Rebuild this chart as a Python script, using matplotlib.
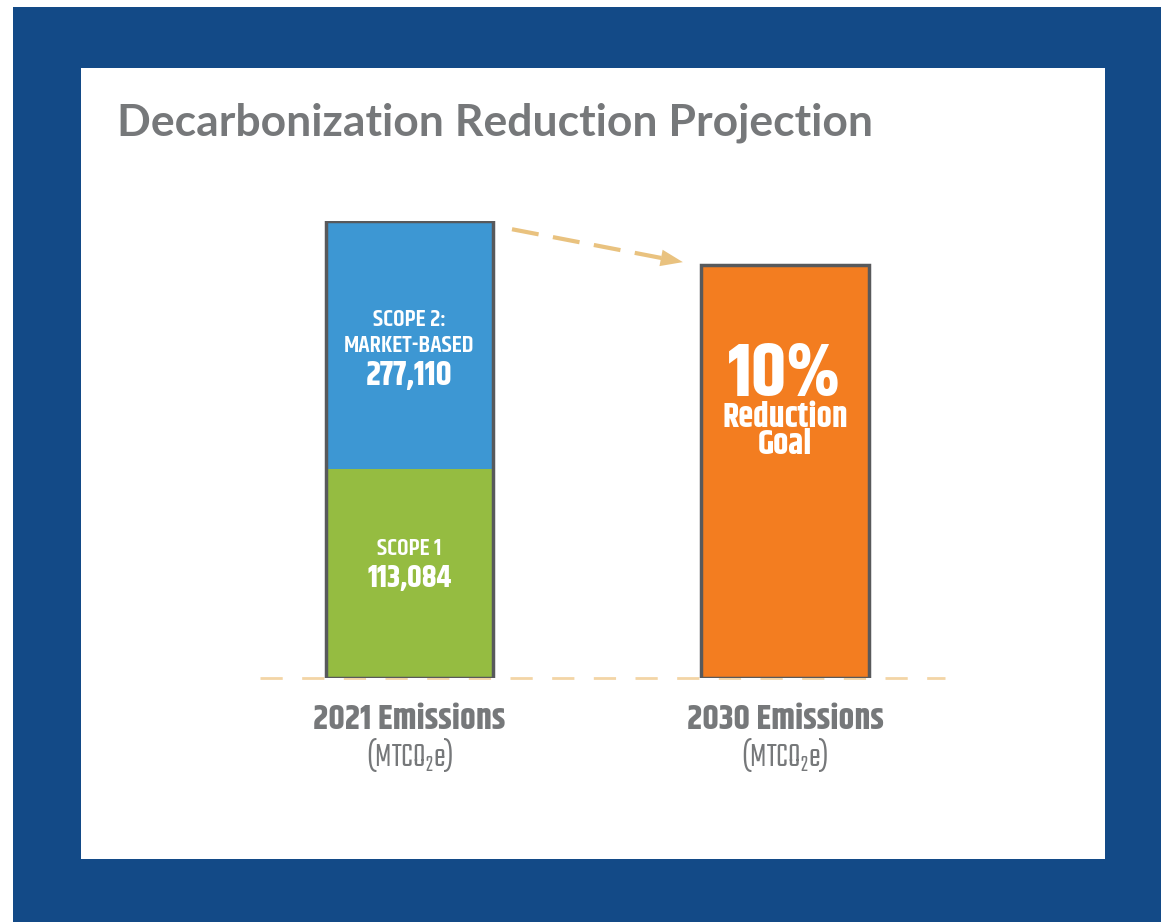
import matplotlib
matplotlib.use("Agg")
import matplotlib.pyplot as plt
from matplotlib.patches import Rectangle

# ---- data ----
categories = ["2021 Emissions", "2030 Emissions"]
unit_label = "(MTCO$_2$e)"
scope1_value = 113084
scope2_value = 277110
reduction_goal_pct = 10
# drawn heights (share of 2021 bar, as shown in the reference graphic)
scope1_height = [45.7, 0]
scope2_height = [54.3, 0]
goal_height = [0, 90.4]
scope1_label = ["SCOPE 1", f"{scope1_value:,}"]
scope2_label = ["SCOPE 2:", "MARKET-BASED", f"{scope2_value:,}"]
goal_label = [f"{reduction_goal_pct}%", "Reduction", "Goal"]

# ---- style ----
FRAME = "#134a87"
BLUE = "#3d97d3"
GREEN = "#95bc41"
ORANGE = "#f37d20"
EDGE = "#58595b"
GRAY = "#76787a"
TAN = "#e9c27f"
TAN_LIGHT = "#f3d5a6"
BOLD = ["Khand", "DejaVu Sans"]
THIN = ["Teko", "DejaVu Sans"]
plt.rcParams["mathtext.fontset"] = "custom"
plt.rcParams["mathtext.rm"] = "Teko"
plt.rcParams["mathtext.default"] = "rm"

W, H = 1163, 922
fig = plt.figure(figsize=(W / 100, H / 100), dpi=100)
fig.patch.set_facecolor("white")

# blue frame and white panel (figure-fraction layout)
fig.patches.append(Rectangle((13 / W, 0), (1161 - 13) / W, (922 - 7) / H,
                             transform=fig.transFigure, facecolor=FRAME,
                             edgecolor="none", zorder=0))
fig.patches.append(Rectangle((81 / W, (922 - 859) / H), (1105 - 81) / W, (859 - 68) / H,
                             transform=fig.transFigure, facecolor="white",
                             edgecolor="none", zorder=1))

fig.text(117 / W, 1 - 123 / H, "Decarbonization Reduction Projection",
         fontsize=32, color=GRAY, family=["Lato", "DejaVu Sans"], fontweight="bold",
         ha="left", va="center", zorder=3)

# main axes
ax = fig.add_axes([260 / W, (922 - 678) / H, (945 - 260) / W, (678 - 221) / H])
ax.set_zorder(2)
ax.patch.set_alpha(0)
x = [0, 1]
bw = 0.445
ax.set_xlim(-0.398, 1.426)
ax.set_ylim(0, 100)
ax.axis("off")

ax.bar(x, scope1_height, width=bw, color=GREEN, edgecolor="none", zorder=2)
ax.bar(x, scope2_height, bottom=scope1_height, width=bw, color=BLUE,
       edgecolor="none", zorder=2)
ax.bar(x, goal_height, width=bw, color=ORANGE, edgecolor="none", zorder=2)
totals = [a + b + c for a, b, c in zip(scope1_height, scope2_height, goal_height)]
ax.bar(x, totals, width=bw, facecolor="none", edgecolor=EDGE, linewidth=2.5, zorder=3)

# dashed baseline
ax.plot([-0.398, 1.426], [0, 0], color=TAN_LIGHT, lw=2, dashes=(8, 7),
        clip_on=False, zorder=1)

# dashed arrow from 2021 top to 2030 top
x0, y0 = x[0] + 0.273, totals[0] - 1.8
x1, y1 = x[1] - 0.272, totals[1] + 0.6
ax.plot([x0, x0 + (x1 - x0) * 0.9], [y0, y0 + (y1 - y0) * 0.9], color=TAN,
        lw=3, dashes=(6.5, 3.5), solid_capstyle="butt", clip_on=False, zorder=2)
ax.annotate("", xy=(x1, y1), xytext=(x0 + (x1 - x0) * 0.86, y0 + (y1 - y0) * 0.86),
            arrowprops=dict(arrowstyle="-|>,head_length=1.6,head_width=0.6",
                            color=TAN, lw=0, shrinkA=0, shrinkB=0),
            annotation_clip=False)

# labels inside the 2021 bar
ax.text(x[0], 78.4, scope2_label[0], ha="center", va="center", color="white",
        fontsize=17.5, family=BOLD, fontweight="semibold")
ax.text(x[0], 72.7, scope2_label[1], ha="center", va="center", color="white",
        fontsize=17.5, family=BOLD, fontweight="semibold")
ax.text(x[0], 66.5, scope2_label[2], ha="center", va="center", color="white",
        fontsize=24.5, family=BOLD, fontweight="bold")
ax.text(x[0], 28.4, scope1_label[0], ha="center", va="center", color="white",
        fontsize=17.5, family=BOLD, fontweight="semibold")
ax.text(x[0], 22.1, scope1_label[1], ha="center", va="center", color="white",
        fontsize=22.5, family=BOLD, fontweight="bold")

# labels inside the 2030 bar
ax.text(x[1], 66.7, goal_label[0], ha="center", va="center", color="white",
        fontsize=54, family=BOLD, fontweight="bold")
ax.text(x[1], 57.3, goal_label[1], ha="center", va="center", color="white",
        fontsize=24.5, family=BOLD, fontweight="bold")
ax.text(x[1], 51.3, goal_label[2], ha="center", va="center", color="white",
        fontsize=24.5, family=BOLD, fontweight="bold")

# category labels below baseline
for xi, cat in zip(x, categories):
    ax.text(xi, -8.8, cat, ha="center", va="center", color=GRAY,
            fontsize=25, family=BOLD, fontweight="bold", clip_on=False)
    ax.text(xi, -16.9, unit_label, ha="center", va="center", color=GRAY,
            fontsize=25, family=THIN, fontweight="medium", clip_on=False)

fig.savefig("out.png", dpi=100, facecolor=fig.get_facecolor())
